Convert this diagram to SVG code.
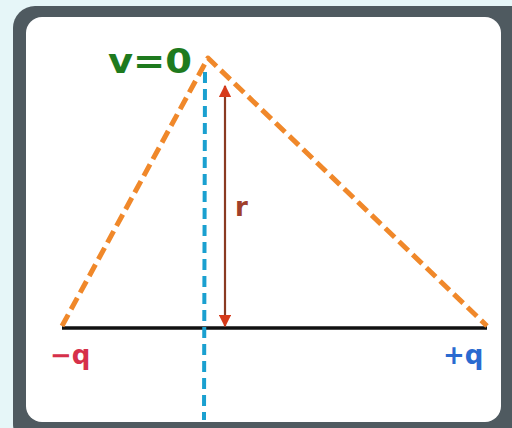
<svg xmlns="http://www.w3.org/2000/svg" width="512" height="428" viewBox="0 0 512 428">
<defs>
<style>
.lbl{font-family:"DejaVu Sans","Liberation Sans",sans-serif;font-weight:bold}
</style>
<marker id="ah" viewBox="0 0 10 10" refX="9" refY="5" markerWidth="6" markerHeight="5.5" orient="auto-start-reverse" markerUnits="strokeWidth">
<path d="M0,0 L10,5 L0,10 Z" fill="#d63a1a"/>
</marker>
</defs>
<rect x="0" y="0" width="512" height="428" fill="#e6f6f8"/>
<rect x="13" y="6" width="520" height="440" rx="22" fill="#4f5a60"/>
<rect x="26" y="17" width="475" height="405" rx="16" fill="#ffffff"/>
<g id="connectors">
<line x1="62" y1="328" x2="487" y2="328" stroke="#111" stroke-width="3.5"/>
<polyline points="62,326 208,58 487,326" fill="none" stroke="#f0882a" stroke-width="5" stroke-dasharray="13,6" stroke-linejoin="round"/>
<line x1="205" y1="72" x2="204" y2="420" stroke="#1aa0d0" stroke-width="4" stroke-dasharray="11,6"/>
<line x1="225" y1="86" x2="225" y2="326" stroke="#8a3a22" stroke-width="2.2" marker-start="url(#ah)" marker-end="url(#ah)"/>
</g>
<g id="label-v"><text class="lbl" x="108" y="73" font-size="33" fill="#1e7a1e" textLength="84" lengthAdjust="spacingAndGlyphs">v=0</text></g>
<g id="label-r"><text class="lbl" x="235" y="216" font-size="26" fill="#a0402a">r</text></g>
<g id="node-neg"><text class="lbl" x="50" y="364" font-size="26" fill="#d6304a">−q</text></g>
<g id="node-pos"><text class="lbl" x="443" y="364" font-size="26" fill="#2a6ad0">+q</text></g>
</svg>
